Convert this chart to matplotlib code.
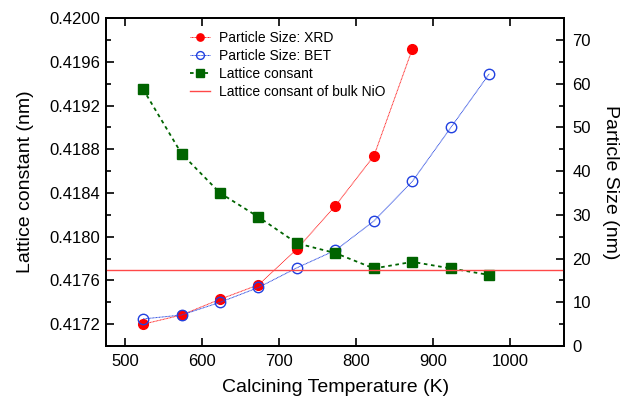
import numpy as np
import matplotlib
matplotlib.use("Agg")
import matplotlib.pyplot as plt
from matplotlib.ticker import MultipleLocator, FormatStrFormatter

plt.rcParams['font.family'] = ['Liberation Sans', 'DejaVu Sans']

### data
temp = [523, 573, 623, 673, 723, 773, 823, 873, 923, 973]
temp_xrd = [523, 573, 623, 673, 723, 773, 823, 873]
size_xrd = [5.0, 7.1, 10.7, 14.0, 22.2, 32.1, 43.5, 68.0]
size_bet = [6.2, 7.1, 10.0, 13.4, 17.9, 21.9, 28.6, 37.7, 50.0, 62.3]
lattice = [0.41935, 0.41876, 0.41840, 0.41818, 0.41794, 0.41785,
           0.41771, 0.41777, 0.41771, 0.41765]
bulk_nio = 0.41770

fig = plt.figure(figsize=(6.24, 4.01), dpi=100)
ax1 = fig.add_axes([0.170, 0.137, 0.734, 0.818])
ax2 = ax1.twinx()

# lattice constant on top of the particle size curves
ax1.set_zorder(ax2.get_zorder() + 1)
ax1.patch.set_visible(False)

l_xrd, = ax2.plot(temp_xrd, size_xrd, color='#ff2020', lw=0.7, ls=(0, (1, 0.5)),
                  marker='o', markersize=7, markerfacecolor='red',
                  markeredgecolor='red', label='Particle Size: XRD')
l_bet, = ax2.plot(temp, size_bet, color='#2848e0', lw=0.7, ls=(0, (1, 0.5)),
                  marker='o', markersize=7.5, markerfacecolor='none',
                  markeredgecolor='#2040e0', markeredgewidth=1.0,
                  label='Particle Size: BET')
l_lat, = ax1.plot(temp, lattice, color='#006400', lw=1.3, ls=(0, (2, 2)),
                  marker='s', markersize=7.5, label='Lattice consant')
l_bulk = ax1.axhline(bulk_nio, color='#ff4848', lw=1.0,
                     label='Lattice consant of bulk NiO')

ax1.set_xlim(475, 1070)
ax1.set_ylim(0.4170, 0.4200)
ax2.set_ylim(0, 75)

ax1.xaxis.set_major_locator(MultipleLocator(100))
ax1.yaxis.set_major_locator(MultipleLocator(0.0004))
ax1.yaxis.set_minor_locator(MultipleLocator(0.0002))
ax1.yaxis.set_major_formatter(FormatStrFormatter('%.4f'))
ax2.yaxis.set_major_locator(MultipleLocator(10))
ax2.yaxis.set_minor_locator(MultipleLocator(5))

ax1.tick_params(axis='x', which='both', direction='in', top=True, length=6,
                width=1.2, labelsize=12, pad=6)
ax1.tick_params(axis='y', which='major', direction='in', length=6, width=1.2,
                labelsize=12, pad=4)
ax1.tick_params(axis='y', which='minor', direction='in', length=3.5, width=1.2)
ax2.tick_params(axis='y', which='major', direction='in', length=6, width=1.2,
                labelsize=12, pad=6)
ax2.tick_params(axis='y', which='minor', direction='in', length=3.5, width=1.2)

for ax in (ax1, ax2):
    for sp in ax.spines.values():
        sp.set_linewidth(1.3)

ax1.set_xlabel('Calcining Temperature (K)', fontsize=14, labelpad=7)
ax1.set_ylabel('Lattice constant (nm)', fontsize=14, labelpad=11)
ax2.set_ylabel('Particle Size (nm)', fontsize=14, rotation=270, labelpad=20)

leg = ax1.legend(handles=[l_xrd, l_bet, l_lat, l_bulk], loc='upper left',
                 bbox_to_anchor=(0.155, 1.0), frameon=False, fontsize=10,
                 handlelength=1.5, handletextpad=0.6, labelspacing=0.3,
                 markerscale=0.75)

fig.savefig('out.png', dpi=100)
